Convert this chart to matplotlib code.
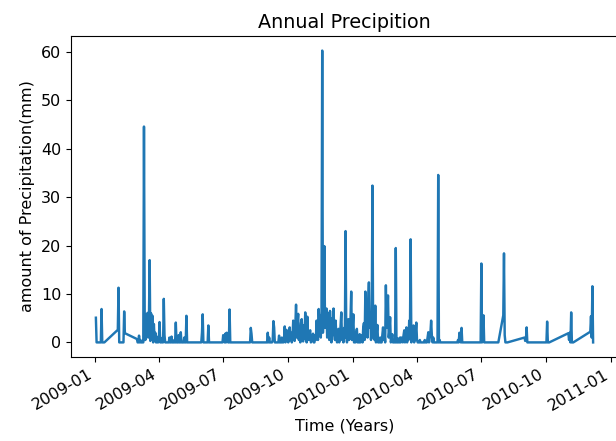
import numpy as np
import pandas as pd
import matplotlib
matplotlib.use("Agg")
import matplotlib.pyplot as plt

# daily precipitation (mm), stored as runs of consecutive days;
# gaps between runs are days with no record (drawn as straight joins)
run_starts = ["2009-01-02", "2009-02-02", "2009-03-01", "2009-05-31",
              "2009-06-30", "2009-08-07", "2009-09-01", "2010-05-28",
              "2010-06-30", "2010-07-25", "2010-08-01", "2010-08-31",
              "2010-09-30", "2010-11-01", "2010-12-02"]

jan_2009 = [5.1, 0, 0, 0, 0, 0, 0, 0, 6.9, 0, 0, 0, 0]
feb_2009 = [2.6, 11.3, 0, 0, 0, 0, 0, 0, 0, 6.4, 1.9]
spring_2009 = [0.7, 0, 0, 1.4, 0, 0.5, 0, 0, 0.3, 0, 44.6,
               6.0, 0.5, 5.8, 2.0, 6.1, 1.0, 4.5, 17.0, 0.3, 6.0,
               1.5, 5.5, 0, 3.8, 0.5, 2.0, 0, 1.2, 0, 0,
               0.5, 4.2, 0, 0, 0.9, 0, 0, 9.0, 1.5, 0,
               0, 0, 0, 0, 0, 1.0, 0, 0, 1.2, 0,
               0, 0, 0.5, 0, 4.1, 0, 0, 0, 1.5, 0,
               0, 2.1, 0, 0, 0, 0, 1.0, 0, 0, 5.5, 0]
jun_2009 = [0, 2.0, 5.8, 0, 0, 0, 0, 0, 0, 0, 3.5, 0]
jul_2009 = [0, 1.5, 0.5, 0, 1.8, 0, 2.0, 0.5, 0, 0, 6.8, 0]
aug_2009 = [0, 0, 3.0, 1.8, 0]
wet_season = [0, 2.0, 0, 1.0, 0, 0, 0, 0, 0.5, 4.4,
              3.1, 0, 0, 0, 0, 0, 0, 1.4, 0, 0,
              0, 1.0, 0, 0, 0.5, 3.3, 0, 2.6, 0.8, 2.4,
              0, 1.5, 3.1, 0.5, 2.0, 0, 1.2, 4.5, 2.0, 0.3,
              3.5, 7.8, 1.0, 4.0, 5.9, 0.5, 3.0, 0, 4.0, 4.8,
              1.5, 0.2, 3.5, 0.8, 6.2, 2.0, 0, 5.3, 1.0, 0.5,
              2.0, 2.5, 0, 0.3, 1.0, 1.8, 0, 0, 1.5, 0.5,
              4.5, 2.0, 0.5, 6.9, 3.0, 5.5, 1.0, 6.5, 60.3, 2.0,
              6.0, 19.9, 3.0, 5.0, 7.0, 1.0, 4.0, 6.0, 0.5, 6.5,
              3.0, 0, 5.0, 1.5, 7.0, 2.0, 0.5, 4.5, 1.0, 0,
              2.0, 2.8, 0, 1.0, 3.5, 6.2, 0.5, 2.5, 0, 3.0,
              1.0, 23.0, 2.0, 0, 3.5, 4.8, 0.5, 2.0, 5.0, 10.5,
              0.5, 3.0, 5.8, 0, 1.5, 0, 2.0, 2.8, 0, 0.5,
              0, 1.7, 0, 0.5, 1.5, 0, 3.1, 4.0, 0.5, 10.5,
              2.0, 6.0, 1.0, 8.5, 12.4, 3.0, 5.5, 0.5, 4.0, 32.4,
              1.0, 3.0, 0.5, 7.6, 0, 2.0, 3.6, 0, 0.5, 0,
              1.0, 0, 0, 1.5, 3.1, 0.5, 2.0, 0, 11.8, 3.0,
              6.0, 9.7, 1.0, 2.5, 5.2, 0, 0.5, 1.7, 0, 0,
              0.5, 0, 19.5, 0, 0, 0.8, 0, 0, 1.0, 0,
              1.0, 0.3, 0, 1.5, 2.5, 0, 1.0, 3.1, 0, 2.0,
              0.5, 4.5, 1.0, 21.3, 0, 2.0, 0.5, 3.5, 0, 1.0,
              2.0, 4.1, 0.5, 0, 0, 0, 0.5, 0, 0, 0,
              0, 0, 0, 0.5, 0, 0, 0, 1.0, 2.1, 0,
              1.0, 2.0, 4.5, 1.5, 0, 1.0, 0, 0, 0, 0,
              0, 0, 34.6, 0, 0.5, 0]
may_2010 = [0, 0.5, 0, 2.0, 0.5, 0, 3.0, 0]
jul_2010 = [0, 16.3, 0, 1.0, 5.6, 0, 0]
late_jul_2010 = [0]
aug_2010 = [5.6, 18.4, 1.5, 0, 0, 0, 0]
sep_2010 = [1.0, 0.3, 0.5, 3.1, 0]
oct_2010 = [0, 0, 4.3, 0, 0, 0]
nov_2010 = [1.9, 0.5, 2.0, 0, 6.2, 0, 0, 0]
dec_2010 = [2.2, 5.4, 1.0, 11.6, 0]

runs = [jan_2009, feb_2009, spring_2009, jun_2009, jul_2009, aug_2009,
        wet_season, may_2010, jul_2010, late_jul_2010, aug_2010, sep_2010,
        oct_2010, nov_2010, dec_2010]

dates = []
precip = []
for start, vals in zip(run_starts, runs):
    dates.extend(pd.date_range(start, periods=len(vals), freq="D"))
    precip.extend(vals)
df = pd.DataFrame({"date": dates, "precip": precip})

plt.rcParams["font.size"] = 11.5

fig = plt.figure(figsize=(6.16, 4.41), dpi=100)
ax = fig.add_subplot(111)
ax.plot(df["date"], df["precip"], lw=1.75)
ax.set_title("Annual Precipition")
ax.set_xlabel("Time (Years)")
ax.set_ylabel("amount of Precipitation(mm)")
fig.autofmt_xdate()
fig.subplots_adjust(left=0.1153, right=1.0032, bottom=0.1905, top=0.9184)

fig.savefig("out.png", dpi=100)
